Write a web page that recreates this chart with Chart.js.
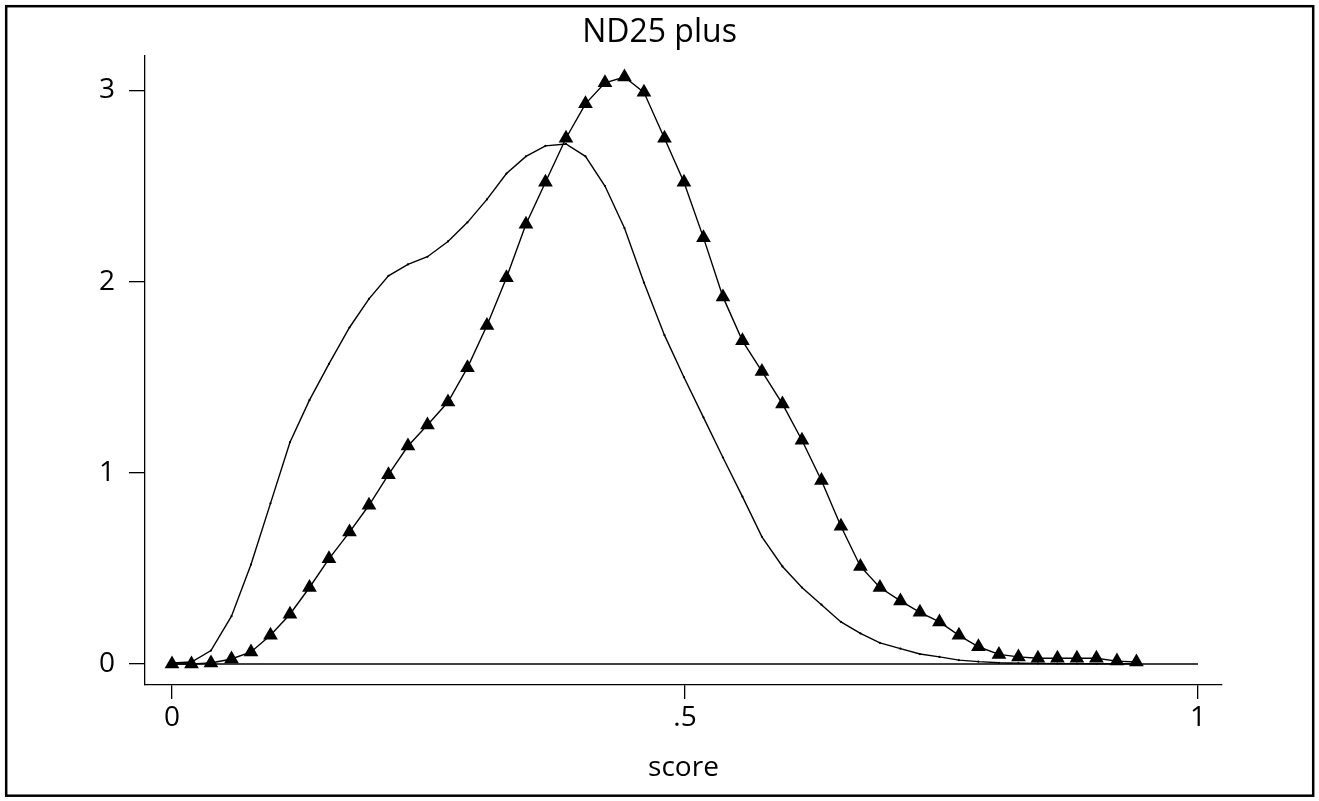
<!DOCTYPE html>
<html><head><meta charset="utf-8">
<script src="https://cdn.jsdelivr.net/npm/chart.js@4/dist/chart.umd.min.js"></script>
<style>html,body{margin:0;padding:0;background:#fff}#wrap{width:1319px;height:801px}</style>
</head><body><div id="wrap"><canvas id="c" width="1319" height="801"></canvas></div>
<script>
const scoreGrid = [0, 0.019, 0.038, 0.058, 0.077, 0.096, 0.115, 0.134, 0.153, 0.173,
  0.192, 0.211, 0.230, 0.249, 0.269, 0.288, 0.307, 0.326, 0.345, 0.364,
  0.384, 0.403, 0.422, 0.441, 0.460, 0.480, 0.499, 0.518, 0.537, 0.556,
  0.575, 0.595, 0.614, 0.633, 0.652, 0.671, 0.690, 0.710, 0.729, 0.748,
  0.767, 0.786, 0.806, 0.825, 0.844, 0.863, 0.882, 0.901, 0.921, 0.940];
const densityPlain = [0.005, 0.01, 0.07, 0.25, 0.52, 0.84, 1.16, 1.38, 1.57, 1.76,
  1.91, 2.03, 2.09, 2.13, 2.21, 2.31, 2.43, 2.565, 2.655, 2.71,
  2.72, 2.655, 2.50, 2.28, 1.995, 1.72, 1.50, 1.29, 1.08, 0.875,
  0.665, 0.51, 0.40, 0.31, 0.22, 0.16, 0.11, 0.08, 0.052, 0.037,
  0.02, 0.012, 0.006, 0.004, 0.003, 0.002, 0.002, 0.001, 0.001, 0.001];
const densityTriangle = [0.0, 0.0, 0.005, 0.026, 0.063, 0.15, 0.26, 0.40, 0.55, 0.69,
  0.83, 0.99, 1.14, 1.25, 1.37, 1.55, 1.77, 2.02, 2.30, 2.52,
  2.75, 2.93, 3.04, 3.07, 2.99, 2.75, 2.52, 2.23, 1.92, 1.69,
  1.53, 1.36, 1.17, 0.96, 0.72, 0.51, 0.40, 0.33, 0.27, 0.22,
  0.15, 0.09, 0.05, 0.037, 0.03, 0.03, 0.03, 0.03, 0.015, 0.01];
const zeroLineX = [0, 1];
const zeroLineY = [0, 0];
const xTickValues = [0, 0.5, 1];
const xTickLabels = ['0', '.5', '1'];
const yTickValues = [0, 1, 2, 3];
const yTickLabels = ['0', '1', '2', '3'];
const chartTitle = 'ND25 plus';
const xTitle = 'score';

const FAM = "'Open Sans', 'Noto Sans', sans-serif";

const frame = {
  id: 'frame',
  afterDraw(chart) {
    const c = chart.ctx;
    c.save();
    c.strokeStyle = '#000';
    c.lineWidth = 2.5;
    c.strokeRect(6.2, 6.2, 1307, 789.5);
    c.restore();
  }
};

new Chart(document.getElementById('c'), {
  type: 'scatter',
  data: {
    datasets: [
      { label: 'zero', data: zeroLineX.map((x, i) => ({x, y: zeroLineY[i]})), showLine: true,
        borderColor: '#000', borderWidth: 1.4, pointRadius: 0 },
      { label: 'plain', data: scoreGrid.map((x, i) => ({x, y: densityPlain[i]})), showLine: true,
        borderColor: '#000', borderWidth: 1.4, pointRadius: 1.1, pointBackgroundColor: '#000', pointBorderWidth: 0 },
      { label: 'triangles', data: scoreGrid.map((x, i) => ({x, y: densityTriangle[i]})), showLine: true,
        borderColor: '#000', borderWidth: 1.4, pointStyle: 'triangle', pointRadius: 8.5,
        pointBackgroundColor: '#000', pointBorderColor: '#000', pointBorderWidth: 0 }
    ]
  },
  options: {
    responsive: false, animation: false, devicePixelRatio: 1,
    layout: { padding: { left: 0, right: 0, top: 0, bottom: 0 } },
    plugins: {
      legend: { display: false }, tooltip: { enabled: false },
      title: { display: true, text: chartTitle, color: '#000',
        font: { family: FAM, size: 32, weight: 'normal', lineHeight: 1.2 }, padding: { top: 14, bottom: 3.6 } }
    },
    scales: {
      x: {
        type: 'linear', min: -0.0263, max: 1.0234,
        afterBuildTicks: s => { s.ticks = xTickValues.map(v => ({ value: v })); },
        afterFit: s => { s.height = 116; },
        ticks: { callback: (v, i) => xTickLabels[i], color: '#000', font: { family: FAM, size: 28, lineHeight: 1.2 },
          padding: 2, maxRotation: 0, autoSkip: false },
        grid: { drawOnChartArea: false, drawTicks: true, tickLength: 14, color: '#000', lineWidth: 1.3 },
        border: { color: '#000', width: 1.3 },
        title: { display: true, text: xTitle, color: '#000', font: { family: FAM, size: 28, lineHeight: 1.2 },
          padding: { top: 0, bottom: 16.2 } }
      },
      y: {
        type: 'linear', min: -0.11, max: 3.18,
        afterBuildTicks: s => { s.ticks = yTickValues.map(v => ({ value: v })); },
        afterFit: s => { s.width = 145; },
        ticks: { callback: (v, i) => yTickLabels[i], color: '#000', font: { family: FAM, size: 28, lineHeight: 1.2 },
          padding: 14, autoSkip: false },
        grid: { drawOnChartArea: false, drawTicks: true, tickLength: 16, color: '#000', lineWidth: 1.3 },
        border: { color: '#000', width: 1.3 }
      },
      yRightSpace: {
        type: 'linear', position: 'right', display: true,
        afterFit: s => { s.width = 97; },
        ticks: { display: false }, grid: { display: false, drawTicks: false }, border: { display: false }
      }
    }
  },
  plugins: [frame]
});
</script>
</body></html>
